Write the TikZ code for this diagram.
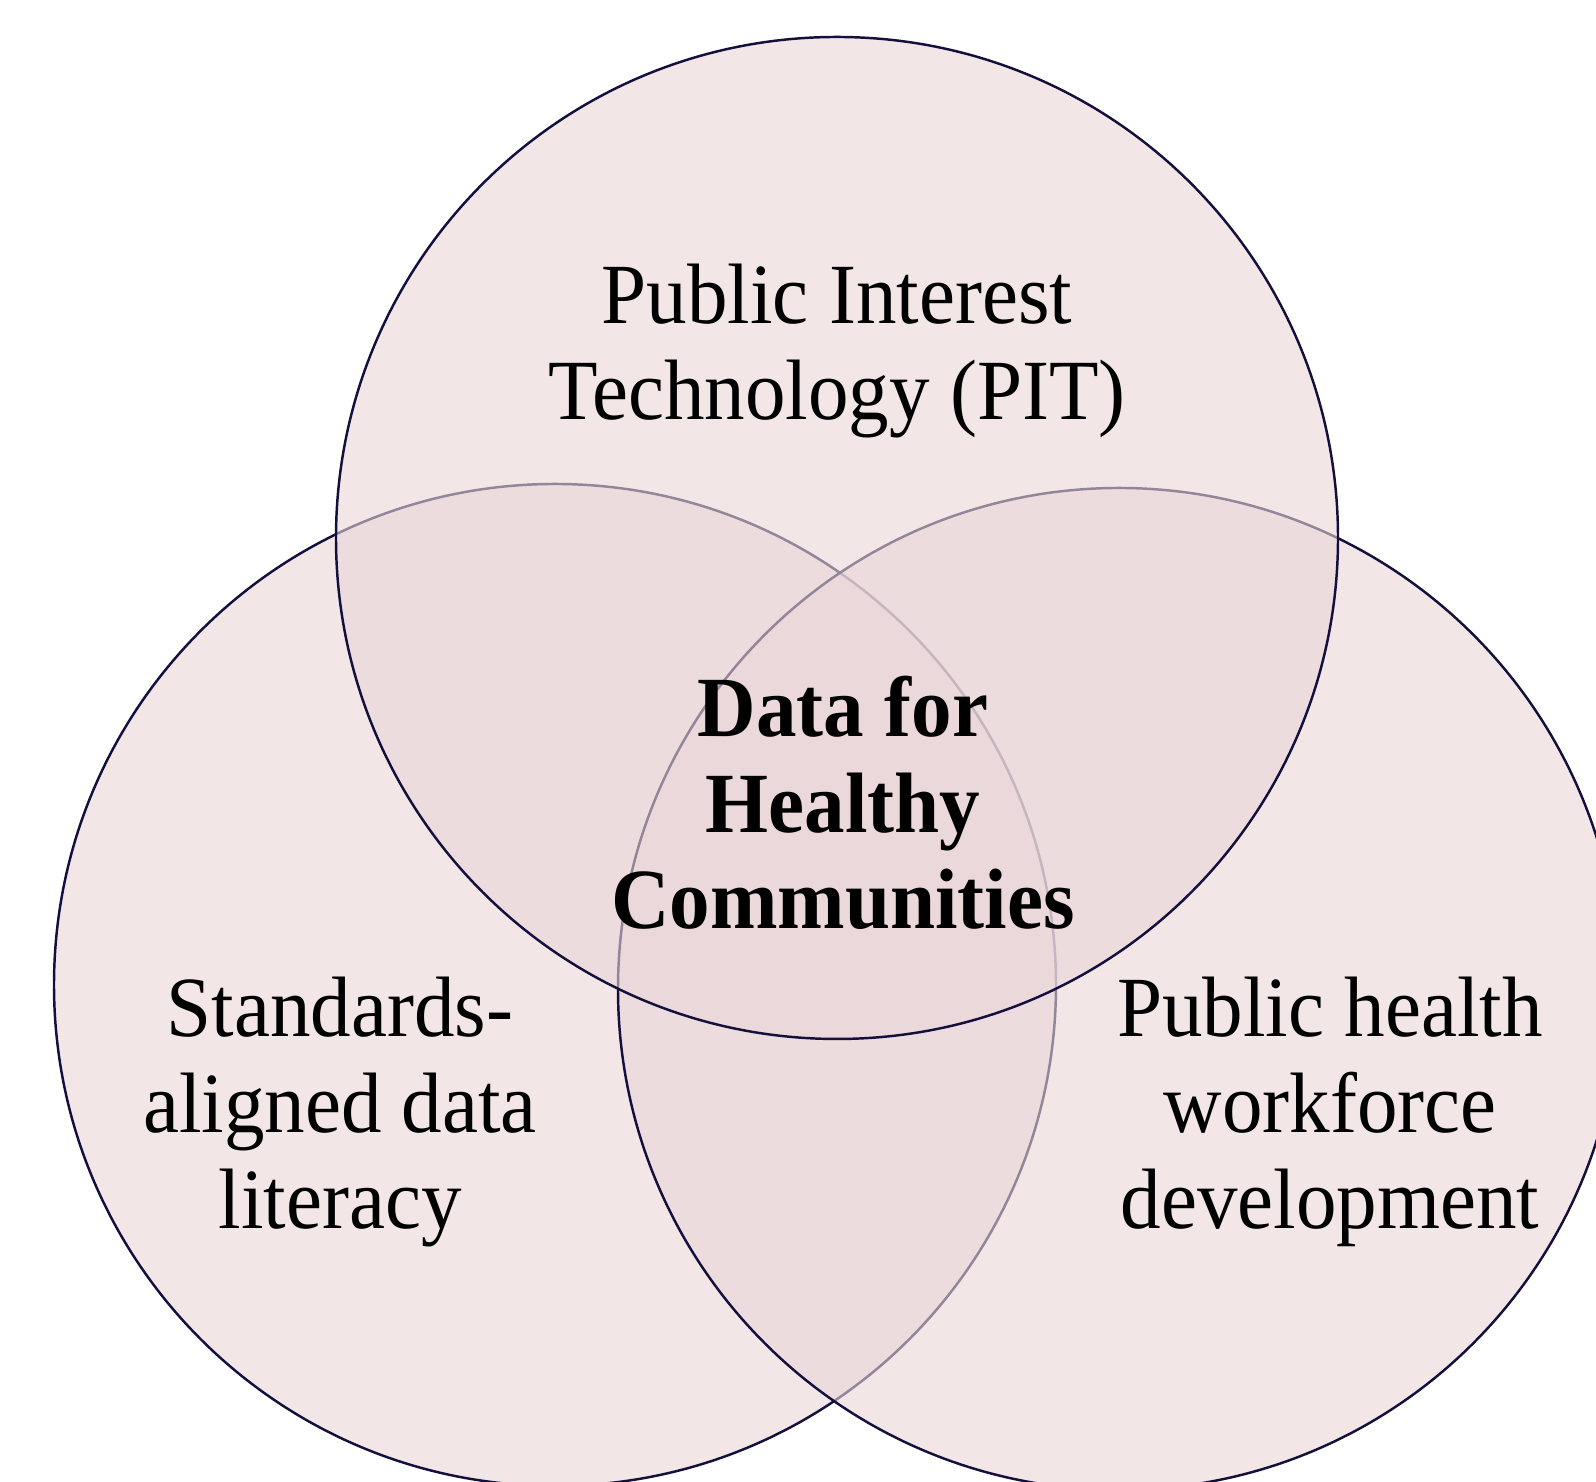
\documentclass[tikz,border=0pt]{standalone}
\usepackage{fontspec}
\setmainfont[FakeStretch=0.945]{Liberation Serif}
\definecolor{vennfill}{RGB}{233,213,215}
\definecolor{vennline}{RGB}{20,16,61}

\begin{document}
\begin{tikzpicture}[
  ring/.style={draw=vennline,line width=0.7pt,fill=vennfill,fill opacity=0.6},
  lbl/.style={align=center,font=\fontsize{24.4}{27.3}\selectfont}]
% page frame
  \useasboundingbox (0,0) rectangle (15.96,14.82);
  \clip (0,0) rectangle (15.96,14.82);
% the three sets
  \draw[ring] (5.55,4.97) circle (5.01);
  \draw[ring] (11.19,4.93) circle (5.01);
  \draw[ring] (8.37,9.44) circle (5.01);
% labels
  \node[lbl] (pit) at (8.37,11.31) {Public Interest\\Technology (PIT)};
  \node[lbl] (lit) at (3.40,3.70) {Standards-\\aligned data\\literacy};
  \node[lbl] (wfd) at (13.30,3.70) {Public health\\workforce\\development};
  \node[lbl,font=\fontsize{24.4}{27.3}\selectfont\bfseries] (dhc) at (8.43,6.79)
    {Data for\\Healthy\\Communities};
\end{tikzpicture}
\end{document}
